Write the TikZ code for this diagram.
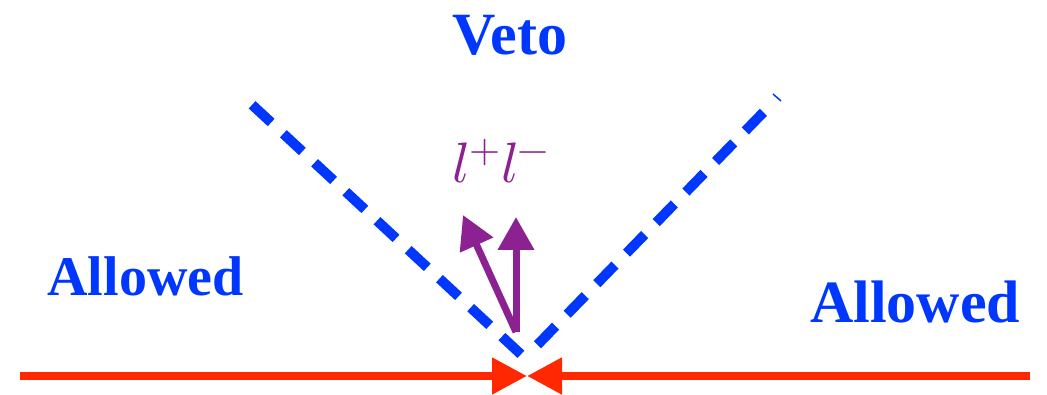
\documentclass[tikz,border=0pt]{standalone}
\usepackage{fontspec}
\usepackage{unicode-math}
\setmainfont{Liberation Serif}
\setmathfont{Latin Modern Math}
\usetikzlibrary{arrows.meta}
\definecolor{vetoblue}{RGB}{0,55,255}
\definecolor{beamred}{RGB}{255,40,0}
\definecolor{leppurple}{RGB}{140,34,145}
\tikzset{
  lbl/.style={inner sep=0pt, anchor=base, text=vetoblue, font=\fontsize{56}{60}\selectfont\bfseries},
  vetoline/.style={draw=vetoblue, line width=10pt, dash pattern=on 26pt off 16.6pt},
  beam/.style={draw=beamred, line width=8pt, -{Triangle[length=35pt,width=35pt]}},
  lepton/.style={draw=leppurple, line width=7pt, -{Triangle[length=33pt,width=35pt]}}
}
\begin{document}
\begin{tikzpicture}[x=1pt,y=1pt]
\useasboundingbox (0,0) rectangle (1047,394);
% labels
\node[lbl, font=\fontsize{60}{64}\selectfont\bfseries] (veto) at (510,339) {Veto};
\node[lbl] (allowL) at (145.5,99) {Allowed};
\node[lbl, font=\fontsize{60}{64}\selectfont\bfseries] (allowR) at (915,72) {Allowed};
\node[inner sep=0pt, anchor=base, text=leppurple, font=\fontsize{57}{60}\selectfont] (ll) at (501,211) {$l^+l^-$};
% coordinates
\coordinate (vlA) at (252.1,289.2);
\coordinate (vlB) at (521.9,38.8);
\coordinate (vrA) at (763.4,281.7);
\coordinate (vrB) at (536.6,48.3);
\coordinate (sA) at (773,300);
\coordinate (sB) at (781,293);
\coordinate (bL) at (20,18);
\coordinate (bR) at (1030,18);
\coordinate (bM) at (527,18);
\coordinate (pO) at (516,62);
\coordinate (pV) at (516,177);
\coordinate (pT) at (463,179);
% veto cone
\draw[vetoline] (vlA) -- (vlB);
\draw[vetoline] (vrA) -- (vrB);
\draw[vetoblue, line width=1.5pt] (sA) -- (sB);
% beams
\draw[beam] (bL) -- (bM);
\draw[beam] (bR) -- (bM);
% leptons
\draw[lepton] (pO) -- (pT);
\draw[lepton] (pO) -- (pV);
\end{tikzpicture}
\end{document}
